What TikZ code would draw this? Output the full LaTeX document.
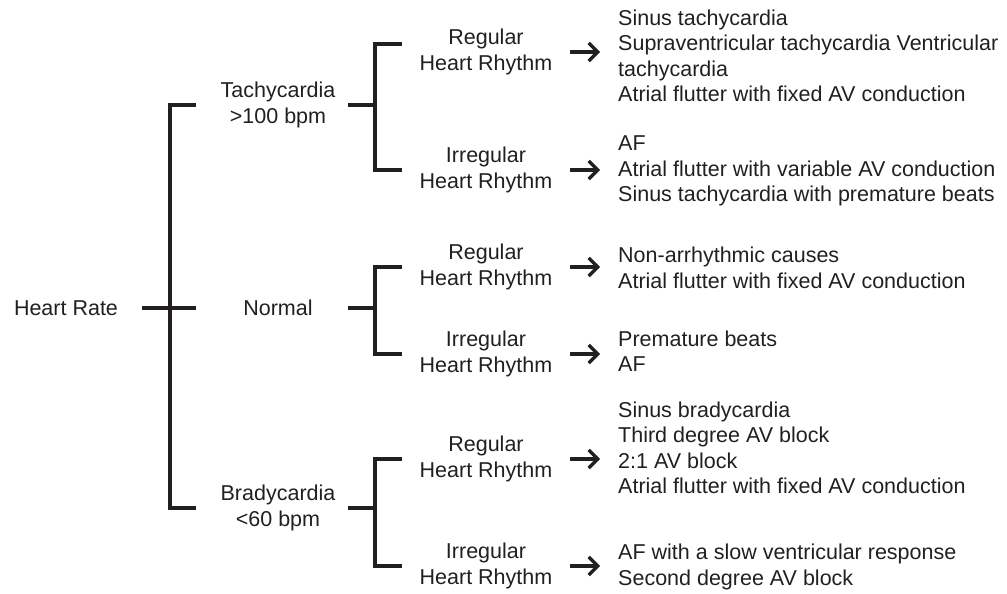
\documentclass[tikz,border=0pt]{standalone}
\usepackage{fontspec}
\setmainfont{Liberation Sans}
\usetikzlibrary{arrows.meta}
\definecolor{ink}{RGB}{35,31,32}

\begin{document}
\begin{tikzpicture}[x=1pt, y=-1pt,
    every node/.style={inner sep=0, text=ink, font=\fontsize{21.5}{25.5}\selectfont},
    cat/.style={minimum width=164pt, align=center},
    rhythm/.style={minimum width=168pt, align=center},
    list/.style={anchor=west, align=left},
    bracket/.style={draw=ink, line width=3.2pt},
    goto/.style={draw=ink, line width=3.2pt, -{Straight Barb[length=9pt, width=18pt]}, shorten >=18pt}]
                \useasboundingbox (0,0) rectangle (1007,594);
                % Nodes
                \node[minimum width=152pt] (hr) at (66,308) {Heart Rate};
                \node[cat] (tach) at (278,105) {Tachycardia\\ >100 bpm};
                \node[cat] (norm) at (278,308) {Normal};
                \node[cat] (brady) at (278,508) {Bradycardia\\ <60 bpm};
                \node[rhythm] (reg1) at (486,52) {Regular\\ Heart Rhythm};
                \node[rhythm] (irr1) at (486,170) {Irregular\\ Heart Rhythm};
                \node[rhythm] (reg2) at (486,267) {Regular\\ Heart Rhythm};
                \node[rhythm] (irr2) at (486,354) {Irregular\\ Heart Rhythm};
                \node[rhythm] (reg3) at (486,459) {Regular\\ Heart Rhythm};
                \node[rhythm] (irr3) at (486,566) {Irregular\\ Heart Rhythm};
                \node[list] (tx1) at (618,56) {Sinus tachycardia\\ Supraventricular tachycardia Ventricular\\ tachycardia\\ Atrial flutter with fixed AV conduction};
                \node[list] (tx2) at (618,171) {AF\\ Atrial flutter with variable AV conduction\\ Sinus tachycardia with premature beats};
                \node[list] (tx3) at (618,268) {Non-arrhythmic causes\\ Atrial flutter with fixed AV conduction};
                \node[list] (tx4) at (618,351) {Premature beats\\ AF};
                \node[list] (tx5) at (618,448) {Sinus bradycardia\\ Third degree AV block\\ 2:1 AV block\\ Atrial flutter with fixed AV conduction};
                \node[list] (tx6) at (618,567) {AF with a slow ventricular response\\ Second degree AV block};
                \coordinate (sp0) at (170,308);
                \coordinate (sp1) at (375,105);
                \coordinate (sp2) at (375,308);
                \coordinate (sp3) at (375,508);
                % Edges
                \draw[bracket] (hr.east) -- (norm.west);
                \draw[bracket] (tach.west) -| (sp0) |- (brady.west);
                \draw[bracket, shorten <=-12pt] (tach.east) -- (sp1);
                \draw[bracket, shorten <=-12pt] (norm.east) -- (sp2);
                \draw[bracket, shorten <=-12pt] (brady.east) -- (sp3);
                \draw[bracket] ([yshift=8pt]reg1.west) -| (sp1) |- (irr1.west);
                \draw[bracket] (reg2.west) -| (sp2) |- (irr2.west);
                \draw[bracket] (reg3.west) -| (sp3) |- (irr3.west);
                \draw[goto] (reg1.east) -- (reg1.east -| tx1.west);
                \draw[goto] (irr1.east) -- (irr1.east -| tx2.west);
                \draw[goto] (reg2.east) -- (reg2.east -| tx3.west);
                \draw[goto] (irr2.east) -- (irr2.east -| tx4.west);
                \draw[goto] (reg3.east) -- (reg3.east -| tx5.west);
                \draw[goto] (irr3.east) -- (irr3.east -| tx6.west);
            \end{tikzpicture}
\end{document}
